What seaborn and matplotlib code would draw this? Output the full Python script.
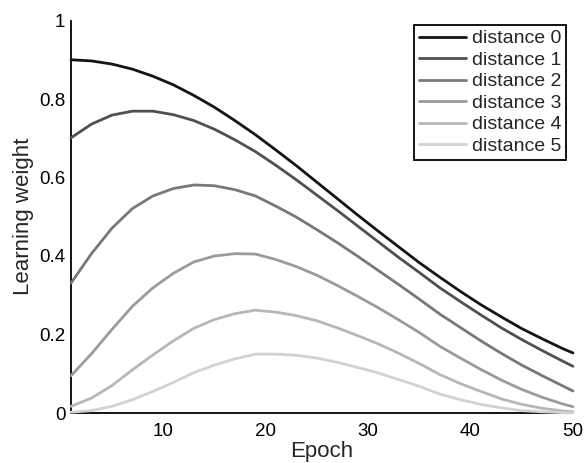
import matplotlib
matplotlib.use("Agg")
import pandas as pd
import matplotlib.pyplot as plt
import seaborn as sns

# valeurs (poids d'apprentissage par distance), une époque sur deux
epochs = [1, 3, 5, 7, 9, 11, 13, 15, 17, 19, 21, 23, 25, 27, 29, 31, 33, 35, 37, 39, 41, 43, 45, 47, 49, 50]
dist0 = [0.900, 0.897, 0.889, 0.876, 0.858, 0.836, 0.809, 0.779, 0.745, 0.709, 0.670, 0.630, 0.588,
         0.546, 0.504, 0.463, 0.423, 0.383, 0.346, 0.310, 0.276, 0.245, 0.215, 0.189, 0.164, 0.153]
dist1 = [0.701, 0.736, 0.759, 0.769, 0.769, 0.760, 0.745, 0.723, 0.696, 0.666, 0.631, 0.594, 0.555,
         0.516, 0.476, 0.436, 0.396, 0.358, 0.319, 0.284, 0.250, 0.217, 0.187, 0.159, 0.132, 0.119]
dist2 = [0.331, 0.406, 0.471, 0.521, 0.553, 0.572, 0.581, 0.579, 0.569, 0.553, 0.527, 0.499, 0.467,
         0.434, 0.399, 0.363, 0.327, 0.290, 0.252, 0.218, 0.184, 0.152, 0.122, 0.095, 0.069, 0.056]
dist3 = [0.095, 0.151, 0.213, 0.272, 0.319, 0.356, 0.385, 0.400, 0.406, 0.405, 0.391, 0.373, 0.351,
         0.325, 0.297, 0.268, 0.237, 0.205, 0.170, 0.140, 0.111, 0.084, 0.060, 0.040, 0.023, 0.016]
dist4 = [0.017, 0.038, 0.070, 0.110, 0.148, 0.184, 0.216, 0.238, 0.253, 0.262, 0.257, 0.248, 0.235,
         0.217, 0.197, 0.176, 0.152, 0.126, 0.098, 0.075, 0.055, 0.036, 0.022, 0.012, 0.005, 0.003]
dist5 = [0.002, 0.006, 0.017, 0.034, 0.055, 0.078, 0.103, 0.122, 0.138, 0.150, 0.150, 0.147, 0.140,
         0.129, 0.116, 0.102, 0.085, 0.068, 0.048, 0.034, 0.022, 0.013, 0.006, 0.003, 0.001, 0.000]

labels = ['distance 0', 'distance 1', 'distance 2', 'distance 3', 'distance 4', 'distance 5']
colors = ['#141414', '#505050', '#787878', '#9b9b9b', '#b7b7b7', '#d2d2d2']
series = [dist0, dist1, dist2, dist3, dist4, dist5]

rows = []
for lab, vals in zip(labels, series):
    for e, v in zip(epochs, vals):
        rows.append({'Epoch': e, 'weight': v, 'dist': lab})
df = pd.DataFrame(rows)

sns.set_style("white")
plt.rcParams['font.family'] = ['Liberation Sans', 'DejaVu Sans']

fig = plt.figure(figsize=(5.84, 4.63), dpi=100)
ax = fig.add_axes([71 / 584, 1 - 413 / 463, 502 / 584, 392.5 / 463])

sns.lineplot(data=df, x='Epoch', y='weight', hue='dist', palette=colors,
             hue_order=labels, estimator=None, linewidth=2, ax=ax, zorder=3)
for ln in ax.lines:
    ln.set_clip_on(False)
    ln.set_solid_joinstyle('round')

ax.set_xlim(1, 50)
ax.set_ylim(0, 1)
ax.set_xticks([10, 20, 30, 40, 50])
ax.set_yticks([0, 0.2, 0.4, 0.6, 0.8, 1])
ax.set_yticklabels(['0', '0.2', '0.4', '0.6', '0.8', '1'])
ax.tick_params(length=0, labelsize=13.5, colors='black')
ax.tick_params(axis='x', pad=7)
ax.tick_params(axis='y', pad=4)
ax.set_xlabel('Epoch', fontsize=16, labelpad=1)
ax.set_ylabel('Learning weight', fontsize=16, labelpad=4)

for side in ['top', 'right']:
    ax.spines[side].set_visible(False)
for side in ['left', 'bottom']:
    ax.spines[side].set_color('black')
    ax.spines[side].set_linewidth(1.3)

leg = ax.legend(loc='upper right', bbox_to_anchor=(566 / 584, 1 - 25 / 463),
                bbox_transform=fig.transFigure, borderaxespad=0,
                handlelength=2.4, handletextpad=0.3, labelspacing=0.2,
                borderpad=0.25, fontsize=14, frameon=True, fancybox=False,
                edgecolor='black', framealpha=1, title=None)
leg.get_frame().set_linewidth(1.3)
for h in leg.get_lines():
    h.set_linewidth(2)

fig.savefig('out.png', dpi=100)
